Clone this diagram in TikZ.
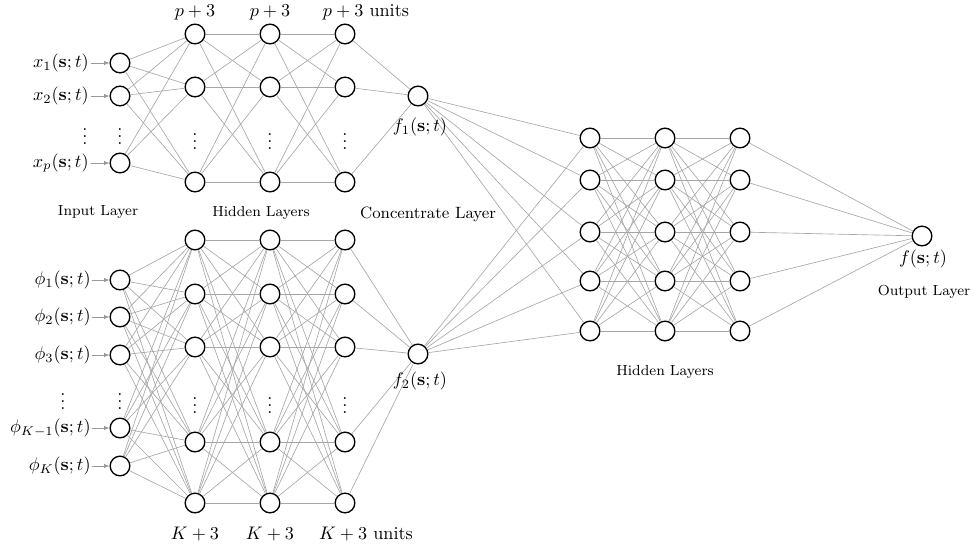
\documentclass[tikz,border=0pt]{standalone}
\usetikzlibrary{arrows.meta}
\begin{document}
\begin{tikzpicture}[x=0.55pt,y=-0.55pt,
  neuron/.style={circle,draw=black,line width=0.75pt,fill=white,minimum size=10.8pt,inner sep=0pt},
  conn/.style={draw=black!35,line width=0.35pt},
  inarrow/.style={draw=black!40,line width=0.5pt,-{Latex[length=3pt,width=2.5pt]}},
  lab/.style={font=\footnotesize,inner sep=0pt},
  clab/.style={font=\small,inner sep=0pt},
  mlab/.style={inner sep=0pt}]
\useasboundingbox (0,0) rectangle (975,547);
% ---------- top network ----------
\foreach \i/\y in {1/63,2/96,3/163} \node[neuron] (TI\i) at (120,\y) {};
\foreach \l/\x in {1/195,2/270,3/345}
  \foreach \i/\y in {1/34,2/87,3/182} \node[neuron] (T\l\i) at (\x,\y) {};
\node[neuron] (F1) at (418,96) {};
% ---------- bottom network ----------
\foreach \i/\y in {1/280,2/317,3/355,4/428,5/466} \node[neuron] (BI\i) at (120,\y) {};
\foreach \l/\x in {1/195,2/270,3/345}
  \foreach \i/\y in {1/240,2/294,3/347,4/442,5/503} \node[neuron] (B\l\i) at (\x,\y) {};
\node[neuron] (F2) at (418,354) {};
% ---------- right network ----------
\foreach \l/\x in {1/590,2/665,3/740}
  \foreach \i/\y in {1/138,2/180,3/232,4/281,5/331} \node[neuron] (R\l\i) at (\x,\y) {};
\node[neuron] (O) at (922,236) {};
% ---------- connections ----------
\foreach \i in {1,2,3} \foreach \j in {1,2,3} \draw[conn] (TI\i) -- (T1\j);
\foreach \i in {1,2,3} \foreach \j in {1,2,3} {\draw[conn] (T1\i) -- (T2\j); \draw[conn] (T2\i) -- (T3\j);}
\foreach \i in {1,2,3} \draw[conn] (T3\i) -- (F1);
\foreach \i in {1,...,5} \foreach \j in {1,...,5} \draw[conn] (BI\i) -- (B1\j);
\foreach \i in {1,...,5} \foreach \j in {1,...,5} {\draw[conn] (B1\i) -- (B2\j); \draw[conn] (B2\i) -- (B3\j);}
\foreach \i in {1,...,5} \draw[conn] (B3\i) -- (F2);
\foreach \j in {1,...,5} {\draw[conn] (F1) -- (R1\j); \draw[conn] (F2) -- (R1\j);}
\foreach \i in {1,...,5} \foreach \j in {1,...,5} {\draw[conn] (R1\i) -- (R2\j); \draw[conn] (R2\i) -- (R3\j);}
\foreach \i in {1,...,5} \draw[conn] (R3\i) -- (O);
% ---------- input labels ----------
\node[mlab,anchor=east] (LX1) at (89,63) {$x_1(\mathbf{s};t)$};
\node[mlab,anchor=east] (LX2) at (89,96) {$x_2(\mathbf{s};t)$};
\node[mlab,anchor=east] (LX3) at (89,163) {$x_p(\mathbf{s};t)$};
\foreach \i in {1,2,3} \draw[inarrow] (LX\i.east) ++(2,0) -- (TI\i);
\node[mlab,anchor=east] (LP1) at (91,280) {$\phi_1(\mathbf{s};t)$};
\node[mlab,anchor=east] (LP2) at (91,317) {$\phi_2(\mathbf{s};t)$};
\node[mlab,anchor=east] (LP3) at (91,355) {$\phi_3(\mathbf{s};t)$};
\node[mlab,anchor=east] (LP4) at (91,428) {$\phi_{K-1}(\mathbf{s};t)$};
\node[mlab,anchor=east] (LP5) at (91,466) {$\phi_K(\mathbf{s};t)$};
\foreach \i in {1,...,5} \draw[inarrow] (LP\i.east) ++(1,0) -- (BI\i);
% ---------- dots ----------
\node[mlab] (D1) at (85,131) {$\vdots$};
\node[mlab] (D2) at (120,131) {$\vdots$};
\foreach \x/\n in {195/3,270/4,345/5} \node[mlab] (D\n) at (\x,136) {$\vdots$};
\node[mlab] (D6) at (63,396) {$\vdots$};
\node[mlab] (D7) at (120,396) {$\vdots$};
\foreach \x/\n in {195/8,270/9,345/10} \node[mlab] (D\n) at (\x,400) {$\vdots$};
% ---------- unit labels ----------
\node[mlab] (P1) at (195,12) {$p+3$};
\node[mlab] (P2) at (270,12) {$p+3$};
\node[mlab] (P3) at (366,12) {$p+3$ units};
\node[mlab] (K1) at (195,534) {$K+3$};
\node[mlab] (K2) at (270,534) {$K+3$};
\node[mlab] (K3) at (366,534) {$K+3$ units};
% ---------- f labels ----------
\node[mlab] (LF1) at (420,127) {$f_1(\mathbf{s};t)$};
\node[mlab] (LF2) at (420,381) {$f_2(\mathbf{s};t)$};
\node[mlab] (LF) at (923,259) {$f(\mathbf{s};t)$};
% ---------- layer labels ----------
\node[lab] (LIn) at (98,212) {Input Layer};
\node[lab] (LH1) at (261,213) {Hidden Layers};
\node[clab] (LC) at (428,214) {Concentrate Layer};
\node[lab] (LH2) at (665,372) {Hidden Layers};
\node[lab] (LO) at (924,292) {Output Layer};
\end{tikzpicture}
\end{document}
